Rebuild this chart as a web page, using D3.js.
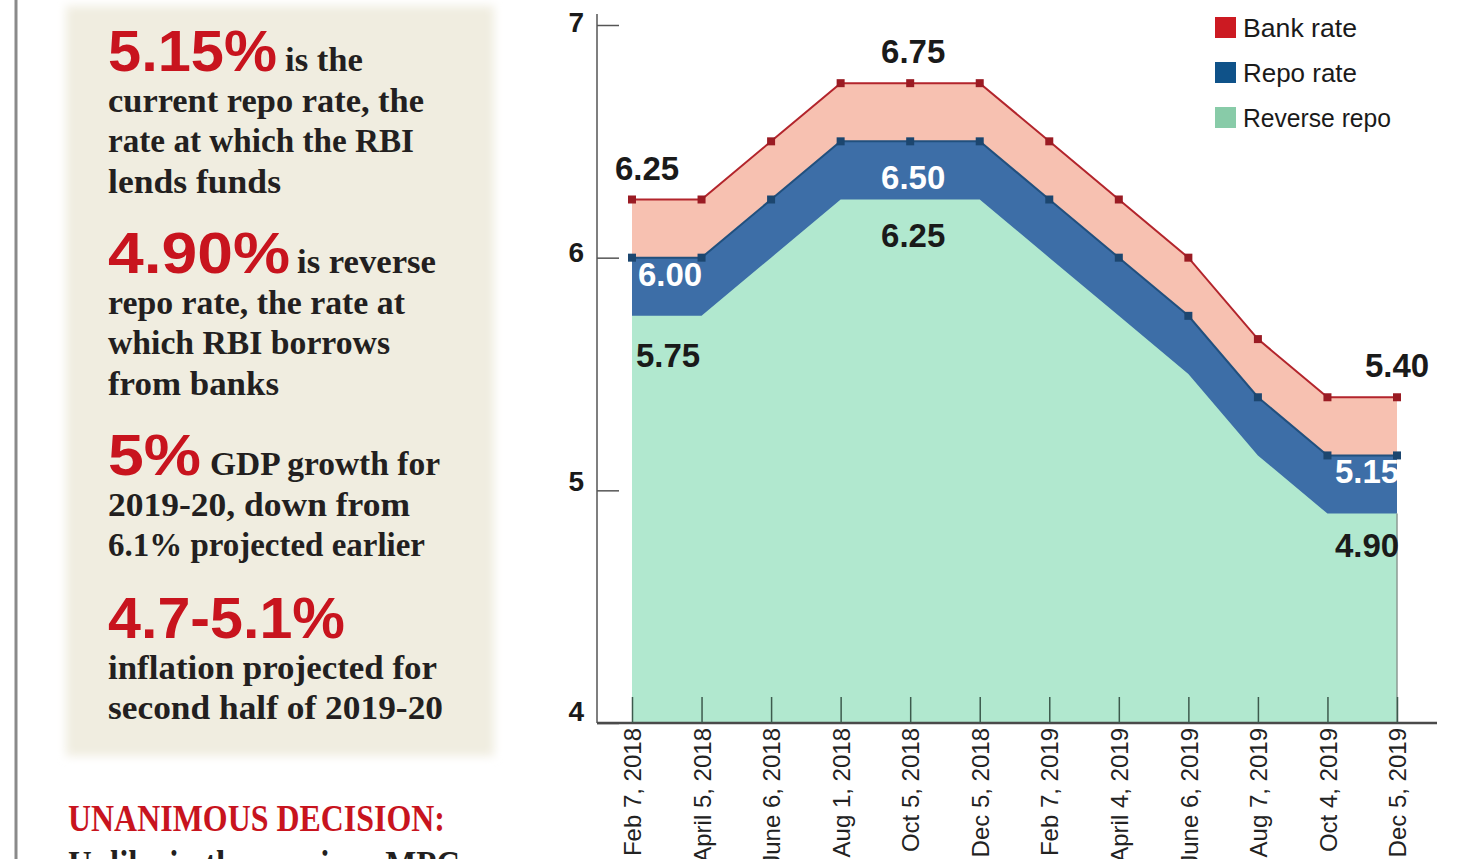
<!DOCTYPE html>
<html><head><meta charset="utf-8">
<script src="https://cdn.jsdelivr.net/npm/d3@7"></script>
<style>
html,body{margin:0;padding:0;background:#fff;overflow:hidden;}
svg{display:block;}
</style></head>
<body>
<svg id="c" width="1482" height="859"></svg>
<script>
// ---------- DATA ----------
const dates = ["Feb 7, 2018","April 5, 2018","June 6, 2018","Aug 1, 2018","Oct 5, 2018","Dec 5, 2018",
               "Feb 7, 2019","April 4, 2019","June 6, 2019","Aug 7, 2019","Oct 4, 2019","Dec 5, 2019"];
const bankRate    = [6.25,6.25,6.50,6.75,6.75,6.75,6.50,6.25,6.00,5.65,5.40,5.40];
const repoRate    = [6.00,6.00,6.25,6.50,6.50,6.50,6.25,6.00,5.75,5.40,5.15,5.15];
const reverseRepo = [5.75,5.75,6.00,6.25,6.25,6.25,6.00,5.75,5.50,5.15,4.90,4.90];
const yTicks = [4,5,6,7];
const legendNames = ["Bank rate","Repo rate","Reverse repo"];
// value annotations: [series, index, text]
const valueLabels = [
  ["bank",0,"6.25"],["repo",0,"6.00"],["rev",0,"5.75"],
  ["bank",4,"6.75"],["repo",4,"6.50"],["rev",4,"6.25"],
  ["bank",11,"5.40"],["repo",11,"5.15"],["rev",11,"4.90"]
];
const sideHeads = ["5.15%","4.90%","5%","4.7-5.1%"];
const sideTexts = [
  ["is the","current repo rate, the","rate at which the RBI","lends funds"],
  ["is reverse","repo rate, the rate at","which RBI borrows","from banks"],
  ["GDP growth for","2019-20, down from","6.1% projected earlier"],
  ["","inflation projected for","second half of 2019-20"]
];

// ---------- SETUP ----------
const svg = d3.select("#c");
const defs = svg.append("defs");
defs.append("filter").attr("id","soft").attr("x","-5%").attr("y","-5%").attr("width","110%").attr("height","110%")
  .append("feGaussianBlur").attr("stdDeviation",5);

// left page rule
svg.append("line").attr("x1",16).attr("x2",16).attr("y1",0).attr("y2",859)
  .attr("stroke","#8a8a8a").attr("stroke-width",3);

// side panel
svg.append("rect").attr("x",66).attr("y",6).attr("width",428).attr("height",750)
  .attr("fill","#f0ede0").attr("filter","url(#soft)");

const serif = "'Liberation Serif','DejaVu Serif',serif";
const sans = "'Liberation Sans',Arial,sans-serif";
const side = svg.append("g");
const headCfg = [
  {y:71, x2:285, w:169, tw:[78,316,306,173]},
  {y:273, x2:297, w:182, tw:[139,297,282,171]},
  {y:475, x2:210, w:93, tw:[230,302,317]},
  {y:638, x2:0, w:237, tw:[0,329,335]}
];
sideHeads.forEach((h,i)=>{
  const c = headCfg[i];
  side.append("text").attr("x",108).attr("y",c.y).text(h)
    .attr("font-family",sans).attr("font-weight","bold").attr("font-size",58)
    .attr("fill","#c8141e").attr("textLength",c.w).attr("lengthAdjust","spacingAndGlyphs");
  sideTexts[i].forEach((t,j)=>{
    if(!t) return;
    const x = j===0 ? c.x2 : 108;
    const y = c.y + j*40.5;
    side.append("text").attr("x",x).attr("y",y).text(t)
      .attr("font-family",serif).attr("font-weight","bold").attr("font-size",34)
      .attr("fill","#231f20").attr("textLength",c.tw[j]).attr("lengthAdjust","spacingAndGlyphs");
  });
});
side.append("text").attr("x",68).attr("y",831).text("UNANIMOUS DECISION:")
  .attr("font-family",serif).attr("font-weight","bold").attr("font-size",38)
  .attr("fill","#c8141e").attr("textLength",377).attr("lengthAdjust","spacingAndGlyphs");
side.append("text").attr("x",68).attr("y",877).text("Unlike in the previous MPC")
  .attr("font-family",serif).attr("font-weight","bold").attr("font-size",38)
  .attr("fill","#231f20").attr("textLength",392).attr("lengthAdjust","spacingAndGlyphs");

// ---------- CHART ----------
const x = d3.scalePoint().domain(dates).range([632,1397]);
const y = d3.scaleLinear().domain([4,7]).range([723,25]);
const base = 4;
const cols = {bank:"#f7c1b1", repo:"#3d6ea7", rev:"#b1e8cf"};
const series = {bank:bankRate, repo:repoRate, rev:reverseRepo};

const chart = svg.append("g");
const area = d => d3.area().x((v,i)=>x(dates[i])).y0(y(base)).y1(v=>y(v))(d);
const line = d => d3.line().x((v,i)=>x(dates[i])).y(v=>y(v))(d);

chart.append("path").attr("d",area(bankRate)).attr("fill",cols.bank);
chart.append("path").attr("d",area(repoRate)).attr("fill",cols.repo);
chart.append("path").attr("d",area(reverseRepo)).attr("fill",cols.rev);

// right edge
chart.append("line").attr("x1",x(dates[11])).attr("x2",x(dates[11]))
  .attr("y1",y(reverseRepo[11])).attr("y2",y(base)).attr("stroke","#8d9a93").attr("stroke-width",1.5);

chart.append("path").attr("d",line(repoRate)).attr("fill","none").attr("stroke","#21507e").attr("stroke-width",2);
chart.append("path").attr("d",line(bankRate)).attr("fill","none").attr("stroke","#b3252c").attr("stroke-width",2);

chart.selectAll(".mb").data(bankRate).enter().append("rect")
  .attr("x",(v,i)=>x(dates[i])-4).attr("y",v=>y(v)-4).attr("width",8).attr("height",8)
  .attr("fill","#9a1b23");
chart.selectAll(".mr").data(repoRate).enter().append("rect")
  .attr("x",(v,i)=>x(dates[i])-4).attr("y",v=>y(v)-4).attr("width",8).attr("height",8)
  .attr("fill","#1c466f");

// axes
const yAxis = d3.axisLeft(y).tickValues(yTicks).tickSize(-22).tickPadding(13).tickFormat(d3.format("d"));
const gy = svg.append("g").attr("transform","translate(597,0)").call(yAxis);
gy.select(".domain").attr("d","M0,14V723").attr("stroke","#555").attr("stroke-width",1.5);
gy.selectAll(".tick line").attr("stroke","#555").attr("stroke-width",1.5);
gy.selectAll(".tick text").attr("font-family",sans).attr("font-weight","bold").attr("font-size",28)
  .attr("fill","#1a1a1a").attr("dy","0.34em").attr("transform",d=>`translate(0,${-(3+(7-d)*3)})`);

const xAxis = d3.axisBottom(x).tickSize(-26).tickPadding(0);
const gx = svg.append("g").attr("transform","translate(0,723)").call(xAxis);
gx.select(".domain").attr("d","M597,0H1437").attr("stroke","#4a4a4a").attr("stroke-width",2.5);
gx.selectAll(".tick line").attr("stroke","#3d5a4d").attr("stroke-width",1.5);
gx.selectAll(".tick text").attr("font-family",sans).attr("font-size",24).attr("fill","#222")
  .attr("transform","rotate(-90)").attr("text-anchor","end").attr("x",-5).attr("y",0).attr("dy","0.36em");

// value labels
const lblStyle = {
  bank:{fill:"#1a1a1a", dy:-20},
  repo:{fill:"#ffffff", dy:28},
  rev:{fill:"#1a1a1a", dy:47}
};
const dxFor = (s,i) => i===0 ? (s==="bank"?15:(s==="repo"?38:36)) : (i===11 ? (s==="bank"?0:-30) : 3);
valueLabels.forEach(([s,i,t])=>{
  let dy = lblStyle[s].dy;
  if(i===4 && s==="repo") dy = 48;
  if(i===0 && s==="rev") dy = 51;
  if(i===11 && s==="rev") dy = 43;
  svg.append("text").attr("x",x(dates[i])+dxFor(s,i)).attr("y",y(series[s][i])+dy)
    .attr("text-anchor","middle").text(t)
    .attr("font-family",sans).attr("font-weight","bold").attr("font-size",33)
    .attr("fill",lblStyle[s].fill);
});

// legend
const legCols = ["#cc1a22","#0f5289","#88cba8"];
const leg = svg.append("g").attr("transform","translate(1215,17)");
legendNames.forEach((n,i)=>{
  const g = leg.append("g").attr("transform",`translate(0,${i*45})`);
  g.append("rect").attr("width",21).attr("height",21).attr("fill",legCols[i]);
  g.append("text").attr("x",28).attr("y",20).text(n)
    .attr("font-family",sans).attr("font-size",26).attr("fill","#1a1a1a")
    .attr("textLength",i===2?148:114).attr("lengthAdjust","spacingAndGlyphs");
});
</script>
</body></html>
